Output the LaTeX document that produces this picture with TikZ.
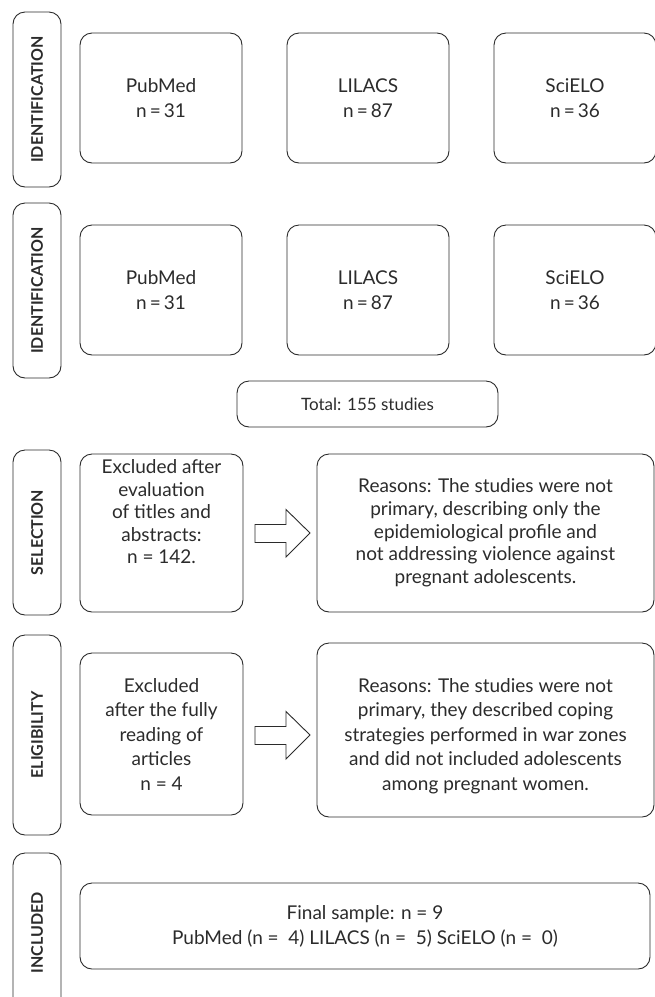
\documentclass[tikz,border=0pt]{standalone}
\usepackage{fontspec}
\setmainfont{Lato}
\definecolor{ink}{HTML}{2B2B2B}
\tikzset{
  box/.style={draw=ink, line width=0.9pt, rounded corners=12pt, inner sep=0pt, align=center, text=ink},
  phase/.style={draw=ink, line width=0.9pt, rounded corners=12pt, inner sep=0pt, minimum height=48pt, rotate=90, text=ink, font=\fontsize{16}{18}\selectfont\bfseries},
  dbbox/.style={box, minimum width=162pt, minimum height=130pt, font=\fontsize{19}{25.5}\selectfont},
  txt/.style={align=center, text=ink, inner sep=0pt},
  hollow/.style={draw=ink, line width=0.9pt, fill=white, line join=miter}
}
\begin{document}
\begin{tikzpicture}[x=1pt,y=-1pt]
\useasboundingbox (0,0) rectangle (655,997);
% phase labels
\node[phase, minimum width=175pt] (p1) at (37,99.5) {IDENTIFICATION};
\node[phase, minimum width=175pt] (p2) at (37,290.5) {IDENTIFICATION};
\node[phase, minimum width=165pt] (p3) at (37,532.5) {SELECTION};
\node[phase, minimum width=200pt] (p4) at (37,735) {ELIGIBILITY};
\node[phase, minimum width=160pt] (p5) at (37,933) {INCLUDED};
% row 1
\node[dbbox] (a1) at (161,98) {PubMed\\n\,=\,31};
\node[dbbox] (a2) at (368,98) {LILACS\\n\,=\,87};
\node[dbbox] (a3) at (575,98) {SciELO\\n\,=\,36};
% row 2
\node[dbbox] (b1) at (161,290) {PubMed\\n\,=\,31};
\node[dbbox] (b2) at (368,290) {LILACS\\n\,=\,87};
\node[dbbox] (b3) at (575,290) {SciELO\\n\,=\,36};
% total
\node[box, minimum width=261pt, minimum height=46pt, font=\fontsize{17}{20}\selectfont] (tot) at (367.5,404) {Total: 155 studies};
% selection
\node[box, minimum width=163pt, minimum height=158pt] (s1) at (161.5,533) {};
\node[txt, font=\fontsize{19}{22.5}\selectfont] (s1t) at (161.5,512) {Excluded after\\evaluation\\of titles and\\abstracts:\\n = 142.};
\node[box, minimum width=337pt, minimum height=158pt, font=\fontsize{19}{22.7}\selectfont] (s2) at (485.5,533) {Reasons: The studies were not\\primary, describing only the\\epidemiological profile and\\not addressing violence against\\pregnant adolescents.};
\coordinate (sa) at (310,533);
\draw[hollow] (sa) -- ++(-24,-23.5) -- ++(0,15) -- ++(-31,0) -- ++(0,18) -- ++(31,0) -- ++(0,14.5) -- cycle;
% eligibility
\node[box, minimum width=163pt, minimum height=162pt, font=\fontsize{19}{24.5}\selectfont] (e1) at (161.5,734) {Excluded\\after the fully\\reading of\\articles\\n = 4};
\node[box, minimum width=337pt, minimum height=174pt, font=\fontsize{19}{24.5}\selectfont] (e2) at (485.5,730) {};
\node[txt, font=\fontsize{19}{24.5}\selectfont] (e2t) at (485.5,736) {Reasons: The studies were not\\primary, they described coping\\strategies performed in war zones\\and did not included adolescents\\among pregnant women.};
\coordinate (ea) at (310,735);
\draw[hollow] (ea) -- ++(-24,-23.5) -- ++(0,15) -- ++(-31,0) -- ++(0,18) -- ++(31,0) -- ++(0,14.5) -- cycle;
% included
\node[box, minimum width=570pt, minimum height=86pt, font=\fontsize{19}{25}\selectfont] (fin) at (365,926) {Final sample: n = 9\\PubMed (n =~~4) LILACS (n =~~5) SciELO (n =~~0)};
\end{tikzpicture}
\end{document}
